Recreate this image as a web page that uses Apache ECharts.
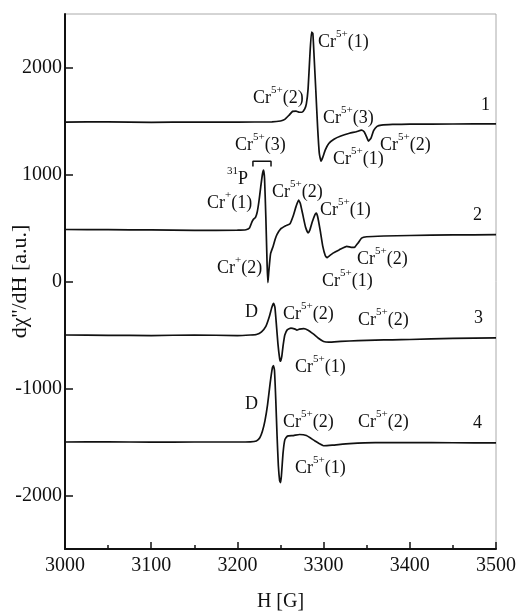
<!DOCTYPE html>
<html><head><meta charset="utf-8">
<script src="https://cdn.jsdelivr.net/npm/echarts@6/dist/echarts.min.js"></script>
<style>html,body{margin:0;padding:0;background:#fff}#c{width:522px;height:614px}</style>
</head><body><div id="c"></div>
<script>
// ---- data (H [G], dχ''/dH [a.u.]) ----
const spectrum1 = [[3000,1490],[3050,1492],[3100,1488],[3150,1490],[3200,1490],[3240,1492],[3250,1500],[3255,1515],[3260,1555],[3264,1590],[3268,1592],[3272,1582],[3275,1582],[3278,1610],[3280,1660],[3282,1800],[3284,2100],[3286,2330],[3287.5,2320],[3289,2100],[3291,1780],[3293,1450],[3295,1200],[3297,1125],[3299,1160],[3302,1230],[3306,1290],[3312,1330],[3320,1360],[3330,1385],[3338,1400],[3344,1415],[3347,1400],[3350,1350],[3352,1312],[3355,1340],[3358,1410],[3362,1450],[3367,1462],[3380,1468],[3400,1470],[3450,1472],[3500,1474]];
const spectrum2 = [[3000,486],[3050,484],[3100,482],[3150,478],[3200,480],[3210,484],[3214,500],[3217,560],[3219,585],[3221,600],[3223,650],[3225,750],[3227,880],[3229,1000],[3230.3,1040],[3231.5,960],[3233,600],[3234.5,150],[3235.4,-10],[3236.5,100],[3238.5,260],[3241.5,330],[3244,400],[3246,440],[3250,490],[3256,520],[3261,540],[3265,620],[3268,700],[3271,760],[3273,730],[3276,620],[3279,510],[3282,455],[3284,480],[3287,560],[3290,625],[3291.5,640],[3293,610],[3296,480],[3299,330],[3302,240],[3304,222],[3306,235],[3311,265],[3318,295],[3327,328],[3333,318],[3336,320],[3340,360],[3344,405],[3350,418],[3370,425],[3400,430],[3450,435],[3500,438]];
const spectrum3 = [[3000,-500],[3050,-503],[3100,-505],[3150,-500],[3200,-505],[3215,-500],[3222,-495],[3228,-470],[3233,-420],[3237,-330],[3240,-240],[3242,-205],[3243.5,-240],[3245,-380],[3247,-580],[3249,-720],[3250,-745],[3251.5,-700],[3253,-600],[3255,-500],[3258,-450],[3262,-435],[3267,-445],[3269,-455],[3272,-445],[3277,-440],[3282,-455],[3288,-490],[3294,-530],[3300,-560],[3306,-567],[3320,-560],[3340,-552],[3360,-548],[3380,-545],[3400,-542],[3450,-532],[3500,-526]];
const spectrum4 = [[3000,-1500],[3050,-1498],[3100,-1502],[3150,-1500],[3200,-1500],[3215,-1498],[3222,-1490],[3226,-1460],[3229,-1400],[3232,-1300],[3235,-1150],[3238,-950],[3240.5,-810],[3241.8,-785],[3243,-830],[3244.5,-1100],[3246,-1440],[3247.5,-1720],[3249,-1860],[3250,-1880],[3251,-1820],[3253,-1600],[3255,-1480],[3258,-1445],[3265,-1440],[3272,-1430],[3280,-1440],[3290,-1490],[3300,-1535],[3310,-1530],[3330,-1515],[3360,-1505],[3400,-1505],[3450,-1507],[3500,-1508]];
const bracket31P = [[3218,1075],[3218,1124],[3239,1124],[3239,1075]];
const yTickValues = [-2000,-1000,0,1000,2000];
const curveLabels = ['1','2','3','4'];

// ---- annotations (pixel layout) ----
const F = 'Liberation Serif';
function cr(sup, idx){ return '{m|Cr}{s|' + sup + '}{m|(' + idx + ')}'; }
const notes = [
  [cr('5+',1),318,40],[cr('5+',2),253,96],[cr('5+',3),323,116],[cr('5+',3),235,143],
  [cr('5+',1),333,157],[cr('5+',2),380,143],
  ['{s|31}{m|P}',227,177],[cr('+',1),207,201],[cr('5+',2),272,190],[cr('5+',1),320,208],
  [cr('+',2),217,266],[cr('5+',2),357,257],[cr('5+',1),322,279],
  ['{m|D}',245,310],[cr('5+',2),283,312],[cr('5+',2),358,318],[cr('5+',1),295,365],
  ['{m|D}',245,402],[cr('5+',2),283,420],[cr('5+',2),358,420],[cr('5+',1),295,466],
  ['{m|' + curveLabels[0] + '}',481,103],['{m|' + curveLabels[1] + '}',473,213],
  ['{m|' + curveLabels[2] + '}',474,316],['{m|' + curveLabels[3] + '}',473,421]
];
const rich = {
  m:{fontFamily:F,fontSize:18,color:'#111',lineHeight:22,verticalAlign:'bottom'},
  s:{fontFamily:F,fontSize:11,color:'#111',lineHeight:22,verticalAlign:'top'}
};
const graphics = notes.map(n => ({
  type:'text', x:n[1], y:n[2], z:100,
  style:{text:n[0], rich:rich, align:'left', verticalAlign:'middle', fill:'#111'}
}));

function line(data, name){
  return {type:'line', name:name, data:data, showSymbol:false, symbol:'none',
    lineStyle:{color:'#111', width:1.7}, smooth:0.15, animation:false};
}

const chart = echarts.init(document.getElementById('c'), null, {renderer:'canvas'});
chart.setOption({
  animation:false,
  backgroundColor:'#fff',
  grid:{left:65, right:26, top:14, bottom:65, containLabel:false, outerBoundsMode:'none',
    show:true, borderColor:'#aaa', borderWidth:1, backgroundColor:'transparent'},
  xAxis:{type:'value', min:3000, max:3500, interval:100,
    name:'H [G]', nameLocation:'middle', nameGap:43, nameMoveOverlap:false,
    nameTextStyle:{fontFamily:F, fontSize:20, color:'#111'},
    axisLine:{onZero:false, lineStyle:{color:'#111', width:2}},
    axisTick:{inside:true, length:7, lineStyle:{color:'#111', width:1.5}},
    minorTick:{show:true, splitNumber:2, length:4, lineStyle:{color:'#111', width:1.5}},
    axisLabel:{fontFamily:F, fontSize:20, color:'#111', margin:7, formatter:v => String(v)},
    splitLine:{show:false}},
  yAxis:{type:'value', min:-2500, max:2500,
    name:"dχ''/dH [a.u.]", nameLocation:'middle', nameGap:34, nameRotate:90, nameMoveOverlap:false,
    nameTextStyle:{fontFamily:F, fontSize:22, color:'#111'},
    axisLine:{show:true, onZero:false, lineStyle:{color:'#111', width:2}},
    axisTick:{show:true, inside:true, length:8, customValues:yTickValues, lineStyle:{color:'#111', width:1.5}},
    axisLabel:{fontFamily:F, fontSize:20, color:'#111', margin:3, customValues:yTickValues, formatter:v => String(v)},
    splitLine:{show:false}},
  series:[
    line(spectrum1,'1'), line(spectrum2,'2'), line(spectrum3,'3'), line(spectrum4,'4'),
    {type:'line', data:bracket31P, showSymbol:false, symbol:'none', lineStyle:{color:'#111', width:1.5}, animation:false}
  ],
  graphic:graphics
});
</script></body></html>
